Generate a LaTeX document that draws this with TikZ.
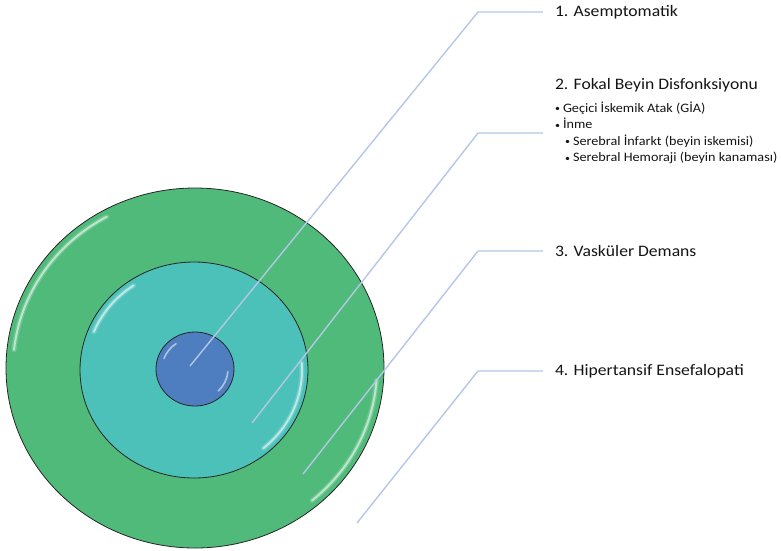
\documentclass[tikz,border=0pt]{standalone}
\usepackage{fontspec}
\newfontfamily\lab{Carlito}[FakeStretch=1.1]
\definecolor{ringG}{HTML}{4FBA79}
\definecolor{ringT}{HTML}{4BC1BA}
\definecolor{ringB}{HTML}{4F7EC0}
\definecolor{leader}{HTML}{B4C7E7}
\tikzset{
  ring/.style={draw=black!85, line width=0.8pt},
  gloss/.style={draw=white, line width=2pt, opacity=0.55, line cap=round},
  glow/.style={draw=white, line width=5pt, opacity=0.18, line cap=round},
  leadline/.style={draw=leader, line width=1.4pt},
  heading/.style={anchor=west, inner xsep=12pt, inner ysep=2pt, outer sep=0pt, font=\lab\fontsize{16}{19}\selectfont, text=black!92},
  bullets/.style={anchor=west, inner xsep=12pt, inner ysep=0pt, outer sep=0pt, align=left, font=\lab\fontsize{12.9}{16.5}\selectfont, text=black!92}
}
\newcommand{\bul}{\hbox to 8pt{\raisebox{0.5pt}{\fontsize{9}{9}\selectfont\textbullet}\hfil}}
\begin{document}
\begin{tikzpicture}[x=1pt,y=-1pt]
\useasboundingbox (0,0) rectangle (781,550);
% rings
\path[ring, fill=ringG] (195,368) ellipse [x radius=189, y radius=180];
\foreach \s in {glow,gloss}{
\draw[\s] ([shift={(186:182 and 173)}]195,368) arc[start angle=186, end angle=241, x radius=182, y radius=173];
\draw[\s] ([shift={(4:182 and 173)}]195,368) arc[start angle=4, end angle=50, x radius=182, y radius=173];}
\path[ring, fill=ringT] (194,370) ellipse [x radius=114, y radius=108];
\foreach \s in {glow,gloss}{
\draw[\s] ([shift={(202:108 and 102)}]194,370) arc[start angle=202, end angle=236, x radius=108, y radius=102];
\draw[\s] ([shift={(-4:108 and 102)}]194,370) arc[start angle=-4, end angle=50, x radius=108, y radius=102];}
\path[ring, fill=ringB] (195,369) ellipse [x radius=39, y radius=37];
\draw[gloss, line width=1.6pt] ([shift={(200:33 and 31)}]195,369) arc[start angle=200, end angle=235, x radius=33, y radius=31];
\draw[gloss, line width=1.6pt] ([shift={(5:33 and 31)}]195,369) arc[start angle=5, end angle=45, x radius=33, y radius=31];
% labels
\node[heading] (l1) at (543,12) {1. Asemptomatik};
\node[heading] (l2) at (543,85) {2. Fokal Beyin Disfonksiyonu};
\node[bullets] (l2b) at (543,133) {\bul Geçici İskemik Atak (GİA)\\
\bul İnme\\
\hspace*{10pt}\bul Serebral İnfarkt (beyin iskemisi)\\
\hspace*{10pt}\bul Serebral Hemoraji (beyin kanaması)};
\node[heading] (l3) at (543,251) {3. Vasküler Demans};
\node[heading] (l4) at (543,371) {4. Hipertansif Ensefalopati};
% leader lines
\coordinate (p1) at (190,366); \coordinate (b1) at (478,12);
\coordinate (p2) at (252,423); \coordinate (b2) at (478,133);
\coordinate (p3) at (303,474); \coordinate (b3) at (478,251);
\coordinate (p4) at (357,523); \coordinate (b4) at (478,371);
\draw[leadline] (p1) -- (b1) -- (l1.west);
\draw[leadline] (p2) -- (b2) -- (l2b.west);
\draw[leadline] (p3) -- (b3) -- (l3.west);
\draw[leadline] (p4) -- (b4) -- (l4.west);
\end{tikzpicture}
\end{document}
